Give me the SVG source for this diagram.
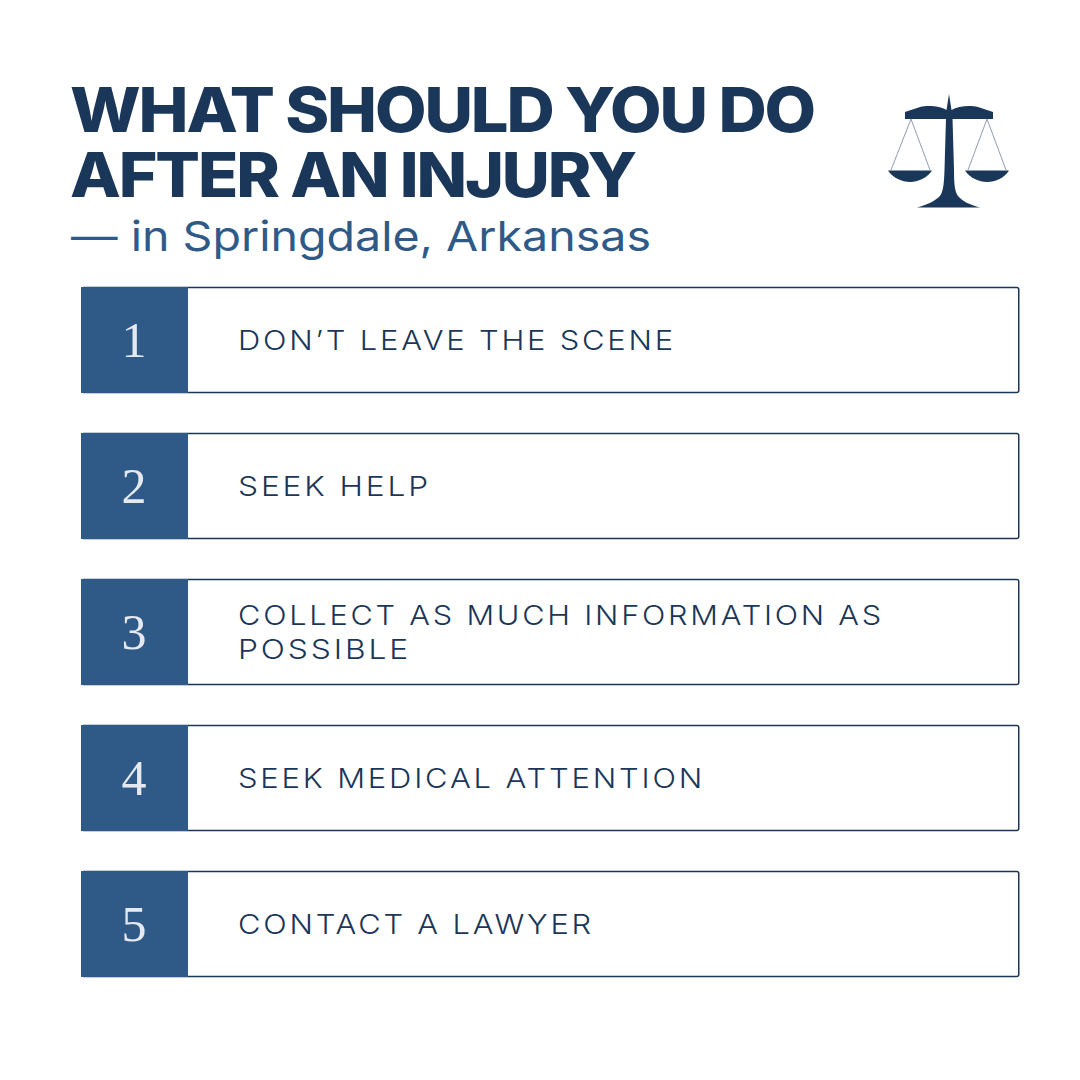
<svg xmlns="http://www.w3.org/2000/svg" width="1080" height="1080" viewBox="0 0 1080 1080">
<style>
.t{font-family:Inter,"Open Sans",sans-serif;font-weight:800;font-size:62px;letter-spacing:-2px;fill:#1a3658}
.s{font-family:Inter,"Open Sans",sans-serif;font-weight:400;font-size:41px;fill:#2f5a88}
.b{fill:#fff;stroke:#1a3658;stroke-width:1.5}
.n{fill:#2f5a88}
.d{font-family:"Liberation Serif",serif;font-size:50px;fill:#e6eaf0;text-anchor:middle}
.l{font-family:Inter,"Open Sans",sans-serif;font-weight:300;font-size:27.5px;letter-spacing:2.5px;fill:#1a3658}
.i{fill:#1a3658}
.w{fill:none;stroke:#8f9db0;stroke-width:1}
</style>
<rect width="1080" height="1080" fill="#fff"/>
<g id="title">
<text class="t" x="70" y="132" textLength="744" lengthAdjust="spacingAndGlyphs">WHAT SHOULD YOU DO</text>
<text class="t" x="70" y="197" textLength="565" lengthAdjust="spacingAndGlyphs">AFTER AN INJURY</text>
<text class="s" x="71" y="251" textLength="580" lengthAdjust="spacingAndGlyphs">— in Springdale, Arkansas</text>
</g>
<g id="scales">
<path class="i" d="M949 94L951.500 110C958 106 970 105 978 107L993 112V119H905V112L920 107C928 105 940 106 946.500 110Z"/>
<path class="i" d="M946 118H952.500L954 170C954 185 955 192 958 196C962 201 970 205 980 207.500H917C927 205 935 201 940 196C943 192 944 185 944.500 170Z"/>
<path class="i" d="M888 170.500H932C927 178 918 182 910 182C902 182 893 178 888 170.500Z"/>
<path class="i" d="M965 170.500H1009C1004 178 996 182 987 182C979 182 970 178 965 170.500Z"/>
<path class="w" d="M891 170L911 119L930 170M968 170L987 119L1006 170"/>
</g>
<g id="step1"><rect class="b" x="81.750" y="287.500" width="937" height="105" rx="2"/><rect class="n" x="81" y="287" width="107" height="106"/><text class="d" x="134" y="357">1</text><text class="l" x="238" y="350" textLength="438" lengthAdjust="spacingAndGlyphs">DON’T LEAVE THE SCENE</text></g>
<g id="step2"><rect class="b" x="81.750" y="433.500" width="937" height="105" rx="2"/><rect class="n" x="81" y="433" width="107" height="106"/><text class="d" x="134" y="503">2</text><text class="l" x="238" y="496" textLength="193" lengthAdjust="spacingAndGlyphs">SEEK HELP</text></g>
<g id="step3"><rect class="b" x="81.750" y="579.500" width="937" height="105" rx="2"/><rect class="n" x="81" y="579" width="107" height="106"/><text class="d" x="134" y="649">3</text><text class="l" x="238" y="625" textLength="646" lengthAdjust="spacingAndGlyphs">COLLECT AS MUCH INFORMATION AS</text><text class="l" x="238" y="659" textLength="173" lengthAdjust="spacingAndGlyphs">POSSIBLE</text></g>
<g id="step4"><rect class="b" x="81.750" y="725.500" width="937" height="105" rx="2"/><rect class="n" x="81" y="725" width="107" height="106"/><text class="d" x="134" y="795">4</text><text class="l" x="238" y="788" textLength="467" lengthAdjust="spacingAndGlyphs">SEEK MEDICAL ATTENTION</text></g>
<g id="step5"><rect class="b" x="81.750" y="871.500" width="937" height="105" rx="2"/><rect class="n" x="81" y="871" width="107" height="106"/><text class="d" x="134" y="941">5</text><text class="l" x="238" y="934" textLength="356" lengthAdjust="spacingAndGlyphs">CONTACT A LAWYER</text></g>
</svg>
